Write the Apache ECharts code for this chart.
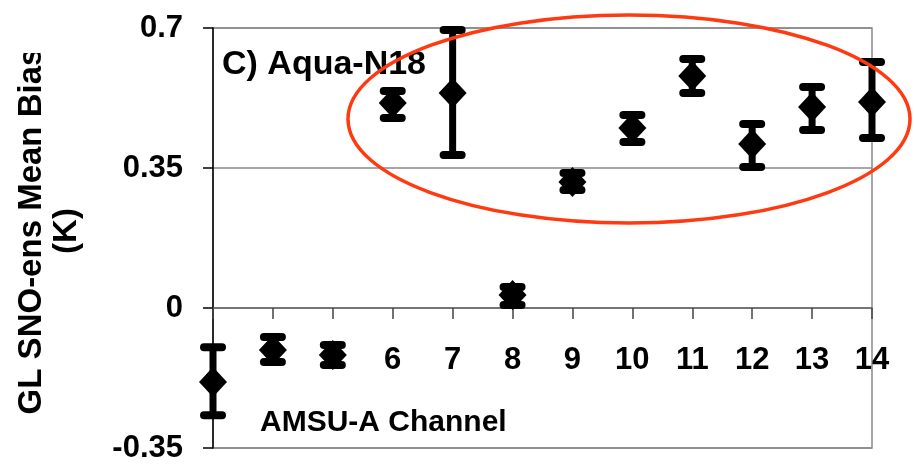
<!DOCTYPE html>
<html>
<head>
<meta charset="utf-8">
<script src="https://cdn.jsdelivr.net/npm/echarts@6/dist/echarts.min.js"></script>
<style>html,body{margin:0;padding:0;background:#fff;}#c{width:914px;height:469px;}</style>
</head>
<body>
<div id="c"></div>
<script>
const channels = ['3','4','5','6','7','8','9','10','11','12','13','14'];
const meanBias = [-0.185, -0.105, -0.1175, 0.5125, 0.5375, 0.0325, 0.315, 0.45, 0.58, 0.41, 0.5025, 0.515];
const errLow  = [-0.268, -0.135, -0.1425, 0.475, 0.3825, 0.0075, 0.295, 0.415, 0.5375, 0.3525, 0.445, 0.425];
const errHigh = [-0.098, -0.0725, -0.0925, 0.5425, 0.695, 0.0525, 0.3375, 0.4825, 0.6225, 0.46, 0.5525, 0.615];
const yTicks = [-0.35, 0, 0.35, 0.7];

const FONT = '"Liberation Sans", Arial, sans-serif';
const chart = echarts.init(document.getElementById('c'));
const errData = channels.map((c, i) => [i, errLow[i], errHigh[i]]);

const gridTop = 28, gridBottom = 21, H = 469;
const plotH = H - gridTop - gridBottom;
const zeroOffset = -plotH * (0 - yTicks[0]) / (yTicks[yTicks.length - 1] - yTicks[0]);

chart.setOption({
  animation: false,
  grid: { left: 213, right: 42, top: gridTop, bottom: gridBottom, show: true, borderColor: '#8a8a8a', borderWidth: 1.5,
          containLabel: false, outerBoundsMode: 'none' },
  xAxis: {
    type: 'category', data: channels, boundaryGap: false, position: 'bottom', offset: zeroOffset,
    axisLine: { onZero: false, lineStyle: { color: '#666', width: 1.5 } },
    axisTick: { show: true, length: 11, lineStyle: { color: '#444', width: 1.5 }, interval: 0 },
    axisLabel: { interval: (idx) => idx >= 3, margin: 37, color: '#000', fontSize: 31, fontWeight: 'bold', fontFamily: FONT },
    splitLine: { show: false }
  },
  yAxis: {
    type: 'value', min: yTicks[0], max: yTicks[yTicks.length - 1], interval: 0.35,
    axisLine: { show: true, onZero: false, lineStyle: { color: '#000', width: 1.5 } },
    axisTick: { show: true, length: 10, lineStyle: { color: '#000', width: 1.5 } },
    axisLabel: { margin: 30, color: '#000', fontSize: 31, fontWeight: 'bold', fontFamily: FONT,
      formatter: (v) => String(Math.round(v * 100) / 100) },
    splitLine: { show: true, lineStyle: { color: '#8a8a8a', width: 1.5 } }
  },
  series: [
    {
      type: 'custom', z: 3,
      data: errData,
      renderItem: function (params, api) {
        const x = api.value(0);
        const lo = api.coord([x, api.value(1)]);
        const hi = api.coord([x, api.value(2)]);
        const hw = 9;
        const st = { stroke: '#000', lineWidth: 8, lineCap: 'round' };
        return { type: 'group', children: [
          { type: 'line', shape: { x1: lo[0], y1: lo[1], x2: hi[0], y2: hi[1] }, style: { stroke: '#000', lineWidth: 7 } },
          { type: 'line', shape: { x1: lo[0] - hw, y1: lo[1], x2: lo[0] + hw, y2: lo[1] }, style: st },
          { type: 'line', shape: { x1: hi[0] - hw, y1: hi[1], x2: hi[0] + hw, y2: hi[1] }, style: st }
        ]};
      }
    },
    {
      type: 'scatter', z: 4, symbol: 'diamond', symbolSize: [28, 30],
      itemStyle: { color: '#000', opacity: 1 },
      data: meanBias.map((v, i) => [i, v])
    }
  ],
  graphic: [
    { type: 'text', z: 50, x: 49, y: 231, rotation: Math.PI / 2,
      style: { text: 'GL SNO-ens Mean Bias\n(K)', fill: '#000', font: 'bold 33px ' + FONT, align: 'center', verticalAlign: 'middle', lineHeight: 35 } },
    { type: 'rect', z: 60, shape: { x: 0, y: 0, width: 70, height: 53 }, style: { fill: '#fff' } },
    { type: 'text', z: 50, x: 222, y: 65,
      style: { text: 'C) Aqua-N18', fill: '#000', font: 'bold 34px ' + FONT, align: 'left', verticalAlign: 'middle' } },
    { type: 'text', z: 50, x: 260, y: 423,
      style: { text: 'AMSU-A Channel', fill: '#000', font: 'bold 30px ' + FONT, align: 'left', verticalAlign: 'middle' } },
    { type: 'ellipse', z: 100, shape: { cx: 629, cy: 119, rx: 281, ry: 104 },
      style: { fill: 'none', stroke: '#FF3A10', lineWidth: 3.5 } }
  ]
});
</script>
</body>
</html>
